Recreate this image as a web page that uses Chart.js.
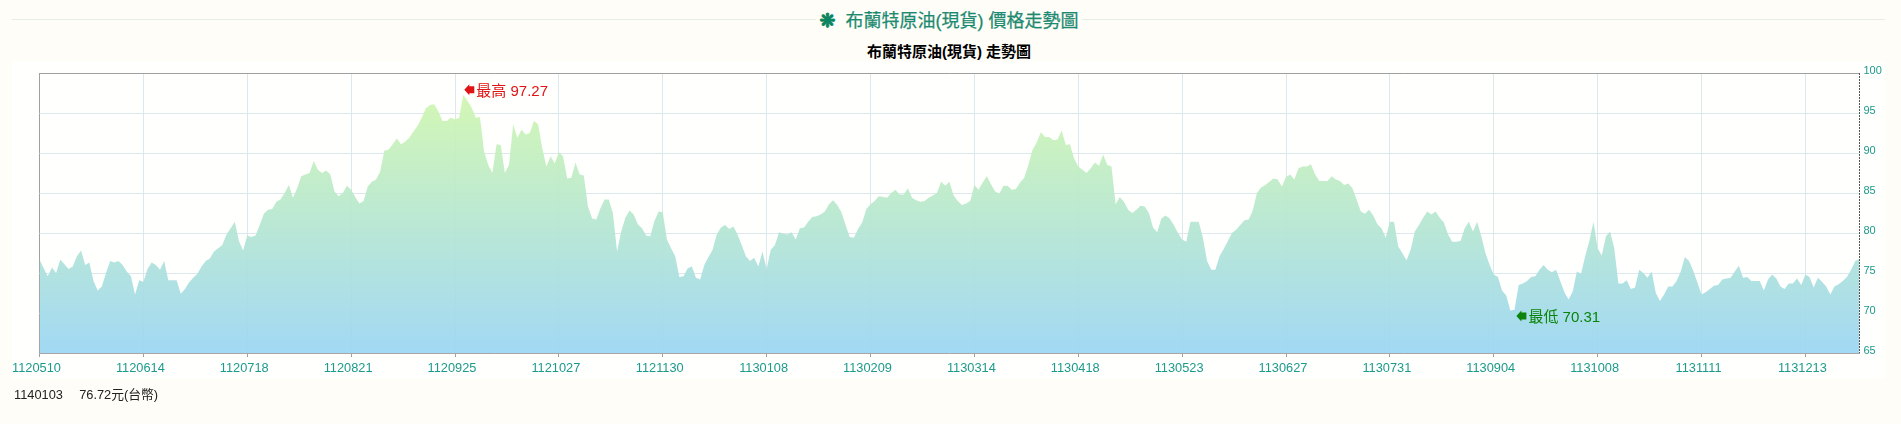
<!DOCTYPE html>
<html lang="zh-Hant">
<head>
  <meta charset="UTF-8">
  <title>布蘭特原油(現貨) 價格走勢圖</title>
  <script src="https://cdn.jsdelivr.net/npm/chart.js"></script>
  <style>
    html, body { margin: 0; padding: 0; background: #fffdf8; overflow: hidden; }
    body { width: 1901px; height: 424px; position: relative; font-family: "Liberation Sans", "Noto Sans CJK TC", sans-serif; }
    .rule { position: absolute; left: 12px; top: 19px; width: 1873px; height: 1px; background: #e8ece6; }
    .head { position: absolute; top: 7px; left: 816px; width: 266px; height: 26px; background: #fffdf8; text-align: center; color: #1c8a70; font-size: 18px; line-height: 26px; white-space: nowrap; -webkit-text-stroke: 0.25px #1c8a70; }
    .head b { color: #0b8560; font-family: "DejaVu Sans"; font-size: 19px; margin-right: 10px; -webkit-text-stroke: 1px #0b8560; }
    .panel { position: absolute; left: 12px; top: 62px; width: 1873px; height: 316px; background: #fffffd; }
    .sub { position: absolute; left: 669px; width: 560px; top: 42px; text-align: center; font-size: 15px; line-height: 20px; font-weight: bold; color: #000; }
    canvas { position: absolute; left: 0; top: 0; }
    .foot { position: absolute; left: 14px; top: 384px; font-size: 12.8px; color: #222; white-space: pre; word-spacing: -0.3px; }
  </style>
</head>
<body>
  <div class="rule"></div>
  <div class="head"><b>❋</b>布蘭特原油(現貨) 價格走勢圖</div>
  <div class="panel"></div>
  <div class="sub">布蘭特原油(現貨) 走勢圖</div>
  <canvas id="oilChart" width="1901" height="424"></canvas>
  <div class="foot">1140103     76.72元(台幣)</div>

  <script>
    // one tick label every 25 trading days
    const tickLabels = ['1120510','1120614','1120718','1120821','1120925','1121027','1121130','1130108','1130209',
      '1130314','1130418','1130523','1130627','1130731','1130904','1131008','1131111','1131213'];
    const tickEvery = 25;
    const yTicks = [65, 70, 75, 80, 85, 90, 95, 100];

    const prices = [
      76.7,75.6,74.6,75.7,75.0,76.7,76.1,75.5,75.8,77.1,77.8,76.0,76.3,74.0,72.8,73.3,75.0,76.5,76.3,76.5,76.0,75.2,74.6,72.3,74.1,
      73.9,75.5,76.3,76.0,75.4,76.5,74.1,74.1,74.1,72.4,73.0,73.8,74.4,74.9,75.8,76.5,76.8,77.7,78.1,78.5,79.8,80.6,81.4,79.0,77.8,
      79.7,79.5,79.7,81.0,82.4,82.9,83.0,83.9,84.2,85.0,86.0,84.4,85.6,87.1,87.3,87.5,89.0,87.9,87.5,87.8,87.3,85.2,84.6,85.0,85.9,
      85.4,84.5,83.7,84.0,85.8,86.4,86.7,87.7,90.3,90.4,91.1,91.8,91.1,91.4,91.9,92.7,93.4,94.4,95.6,96.0,96.1,95.2,94.0,94.0,94.4,
      94.2,94.4,97.27,96.5,95.7,94.4,94.5,90.2,88.5,87.5,91.1,91.0,87.5,88.5,93.6,91.9,92.9,92.3,92.5,94.0,93.6,90.6,88.3,89.6,88.7,
      90.1,89.6,86.8,86.9,88.8,87.3,87.2,83.3,81.8,81.7,83.1,84.2,84.2,82.5,77.7,80.2,81.9,82.8,82.3,81.1,80.6,79.7,79.6,81.5,82.7,
      82.6,79.2,78.1,77.1,74.5,74.6,75.6,75.8,74.4,74.2,76.0,77.0,77.9,79.8,80.7,81.0,80.5,80.8,79.8,78.5,77.1,76.5,76.9,75.8,77.7,
      75.5,77.9,78.5,80.1,79.9,79.8,80.1,79.2,80.6,80.7,81.4,82.0,82.1,82.3,82.7,83.6,84.1,83.5,82.6,81.0,79.5,79.4,80.5,81.3,83.0,
      83.6,84.0,84.6,84.5,84.4,85.0,85.4,84.8,84.8,85.6,84.4,84.1,83.9,84.0,84.4,84.7,85.0,86.4,85.9,86.4,84.7,84.0,83.5,83.7,84.0,
      86.0,85.4,86.3,87.1,86.1,85.2,84.9,85.9,85.9,85.4,85.5,86.3,86.9,88.5,90.4,91.3,92.6,92.0,92.0,91.6,91.7,92.8,91.0,91.1,89.3,
      88.3,87.9,87.5,88.1,88.8,88.4,89.8,88.5,88.3,83.6,84.5,83.9,82.9,82.5,82.9,83.4,83.3,82.5,80.7,80.1,81.8,82.2,81.8,81.0,80.0,
      79.2,78.9,81.4,81.4,81.4,79.4,76.5,75.4,75.4,77.1,78.0,79.0,80.0,80.4,81.0,81.6,81.7,82.8,85.0,85.7,86.0,86.4,86.8,86.7,85.8,
      87.0,87.3,86.7,88.1,88.3,88.3,88.6,87.3,86.5,86.5,86.5,87.1,86.7,86.5,86.0,86.2,85.6,84.2,82.7,82.4,82.9,82.2,81.1,80.6,79.4,
      81.4,81.4,78.3,77.5,76.6,77.9,80.2,81.0,81.9,82.7,82.3,82.7,81.9,81.3,79.8,78.9,78.9,79.0,80.6,81.4,80.2,81.4,79.6,77.5,76.0,
      74.8,74.5,72.8,72.2,70.31,70.4,73.5,73.7,74.0,74.5,74.6,75.4,76.0,75.4,75.1,75.4,74.0,72.6,71.7,72.7,75.2,74.9,77.1,79.0,81.4,
      78.1,77.2,79.6,80.2,78.1,73.7,73.7,74.1,73.0,73.2,75.4,75.0,74.4,75.2,72.5,71.5,72.3,73.3,73.3,74.0,75.2,77.0,76.5,75.3,73.8,
      72.3,72.6,73.0,73.4,73.5,74.2,74.3,74.4,75.2,75.9,74.4,74.5,74.0,74.0,74.0,72.8,74.2,74.8,74.3,73.3,73.0,73.7,73.7,74.3,73.5,
      74.8,74.5,73.2,74.4,73.9,73.3,72.3,73.3,73.6,74.0,74.5,75.4,76.5,76.72
    ];

    const highest = Math.max(...prices);
    const lowest = Math.min(...prices);

    // arrow + text next to the high and low points, dashed line on the right edge
    const markers = {
      id: 'markers',
      afterDatasetsDraw(chart) {
        const { ctx, chartArea, scales: { x, y } } = chart;
        ctx.save();
        ctx.strokeStyle = '#555';
        ctx.lineWidth = 1;
        ctx.setLineDash([2, 1]);
        ctx.beginPath();
        ctx.moveTo(Math.round(chartArea.right) + 0.5, chartArea.top);
        ctx.lineTo(Math.round(chartArea.right) + 0.5, chartArea.bottom);
        ctx.stroke();
        ctx.restore();

        const put = (value, text, color, dx, dy) => {
          const px = x.getPixelForValue(prices.indexOf(value)) + dx;
          const py = y.getPixelForValue(value) + dy;
          ctx.save();
          ctx.fillStyle = color;
          ctx.beginPath();
          ctx.moveTo(px, py);
          ctx.lineTo(px + 5, py - 5.5);
          ctx.lineTo(px + 5, py - 3.5);
          ctx.lineTo(px + 10, py - 3.5);
          ctx.lineTo(px + 10, py + 3.5);
          ctx.lineTo(px + 5, py + 3.5);
          ctx.lineTo(px + 5, py + 5.5);
          ctx.closePath();
          ctx.fill();
          ctx.font = '15px "Liberation Sans", "Noto Sans CJK TC"';
          ctx.textBaseline = 'middle';
          ctx.fillText(text, px + 12, py + 2);
          ctx.restore();
        };
        put(highest, '最高 ' + highest, '#e01414', 1, -5);
        put(lowest, '最低 ' + lowest, '#0a840a', 6, 5.5);
      }
    };

    new Chart(document.getElementById('oilChart'), {
      type: 'line',
      data: {
        datasets: [{
          data: prices.map((v, i) => ({ x: i, y: v })),
          borderWidth: 0,
          pointRadius: 0,
          tension: 0,
          fill: 'start',
          backgroundColor(c) {
            const area = c.chart.chartArea;
            if (!area) return '#b5e5d8';
            const g = c.chart.ctx.createLinearGradient(0, area.top, 0, area.bottom);
            g.addColorStop(0, 'rgba(212,249,170,0.93)');
            g.addColorStop(1, 'rgba(155,214,243,0.93)');
            return g;
          }
        }]
      },
      options: {
        responsive: false,
        animation: false,
        devicePixelRatio: 1,
        layout: { padding: { left: 39.5, right: 0, top: 73, bottom: 0 } },
        plugins: {
          legend: { display: false },
          tooltip: { enabled: false }
        },
        scales: {
          x: {
            type: 'linear',
            min: 0,
            max: prices.length - 1,
            afterBuildTicks(s) { s.ticks = tickLabels.map((_, i) => ({ value: i * tickEvery })); },
            afterFit(s) { s.height = 71; },
            border: { color: '#a6a6a6', width: 1 },
            grid: {
              color: c => (c.tick && c.tick.value === 0 ? '#a0a0a0' : '#dbe8ee'),
              tickColor: '#a0a0a0',
              tickLength: 4,
              lineWidth: 1
            },
            ticks: {
              autoSkip: false,
              maxRotation: 0,
              padding: 4,
              labelOffset: -3,
              color: '#1c9a8c',
              font: { size: 12.8, family: '"Liberation Sans"' },
              callback: v => tickLabels[v / tickEvery]
            }
          },
          y: {
            position: 'right',
            min: 65,
            max: 100,
            afterBuildTicks(s) { s.ticks = yTicks.map(v => ({ value: v })); },
            afterFit(s) { s.width = 41.6; },
            border: { display: false },
            grid: {
              color: c => (c.tick && c.tick.value === 100 ? '#a0a0a0' : '#dbe8ee'),
              lineWidth: 1,
              tickLength: 0
            },
            ticks: {
              padding: 4,
              labelOffset: -2,
              color: '#1c9a8c',
              font: { size: 11, family: '"Liberation Sans"' }
            }
          }
        }
      },
      plugins: [markers]
    });
  </script>
</body>
</html>
